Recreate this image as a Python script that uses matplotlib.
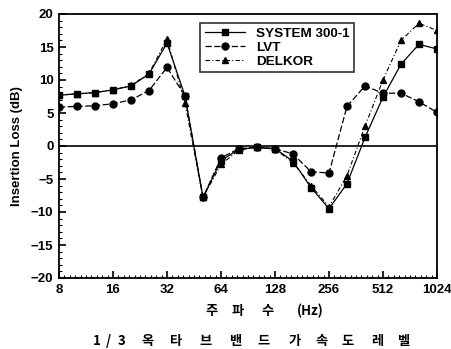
import numpy as np
import matplotlib
matplotlib.use("Agg")
import matplotlib.pyplot as plt
from matplotlib.ticker import FixedLocator, FixedFormatter, MultipleLocator

plt.rcParams['font.family'] = ['Liberation Sans', 'Noto Sans CJK KR', 'DejaVu Sans']

freqs = [8, 10.1, 12.7, 16, 20.2, 25.4, 32, 40.3, 50.8, 64, 80.6, 101.6,
         128, 161.3, 203.2, 256, 322.5, 406.4, 512, 645.1, 812.7, 1024]
system_300_1 = [7.7, 7.9, 8.1, 8.5, 9.1, 10.9, 15.6, 7.6, -7.8, -2.2, -0.5, -0.2,
                -0.4, -2.3, -6.3, -9.5, -5.7, 1.3, 7.4, 12.4, 15.4, 14.7]
lvt = [5.9, 6.0, 6.1, 6.4, 7.0, 8.4, 11.9, 7.6, -7.8, -1.8, -0.4, -0.2,
       -0.4, -1.2, -3.9, -4.1, 6.0, 9.1, 8.0, 8.0, 6.7, 5.1]
delkor = [7.7, 7.9, 8.1, 8.5, 9.2, 11.0, 16.2, 6.5, -7.8, -2.8, -0.6, -0.2,
          -0.5, -2.5, -6.0, -9.2, -4.5, 3.0, 10.0, 16.0, 18.6, 17.5]
xtick_vals = [8, 16, 32, 64, 128, 256, 512, 1024]
xtick_labels = ['8', '16', '32', '64', '128', '256', '512', '1024']
ytick_vals = [20, 15, 10, 5, 0, -5, -10, -15, -20]
series_names = ['SYSTEM 300-1', 'LVT', 'DELKOR']
xlabel_parts = ['주', '파', '수', '(Hz)']
title_parts = ['1', '/', '3', '옥', '타', '브', '밴', '드', '가', '속', '도', '레', '벨']

W, H = 451, 349
fig = plt.figure(figsize=(W / 100, H / 100), dpi=100)
ax = fig.add_axes([59 / W, 1 - 278 / H, 378 / W, 264 / H])

ax.plot(freqs, system_300_1, color='black', lw=0.9, ls='-', marker='s', ms=4.5, label=series_names[0])
ax.plot(freqs, lvt, color='black', lw=0.9, ls=(0, (5, 2)), marker='o', ms=5, label=series_names[1])
ax.plot(freqs, delkor, color='black', lw=0.8, ls=(0, (4, 2, 1, 2)), marker='^', ms=5, label=series_names[2])

ax.axhline(0, color='black', lw=1.2, zorder=0)

ax.set_xscale('log', base=2)
ax.set_xlim(8, 1024)
ax.set_ylim(-20, 20)
ax.xaxis.set_major_locator(FixedLocator(xtick_vals))
ax.xaxis.set_major_formatter(FixedFormatter(xtick_labels))
minor = [8 * 2 ** (k / 10) for k in range(0, 71) if k % 10 != 0]
ax.xaxis.set_minor_locator(FixedLocator(minor))
ax.xaxis.set_minor_formatter(FixedFormatter([''] * len(minor)))
ax.yaxis.set_major_locator(FixedLocator(ytick_vals))
ax.yaxis.set_minor_locator(MultipleLocator(1))

ax.tick_params(axis='both', which='major', direction='in', length=5, width=1.2,
               labelsize=9.5, pad=4)
ax.tick_params(axis='both', which='minor', direction='in', length=2.5, width=0.8)
for lab in ax.get_xticklabels() + ax.get_yticklabels():
    lab.set_fontweight('bold')
for s in ax.spines.values():
    s.set_linewidth(1.3)

ax.set_ylabel('Insertion Loss (dB)', fontsize=9.5, fontweight='bold', labelpad=6)

leg = ax.legend(loc='upper left', bbox_to_anchor=(0.373, 0.966), frameon=True,
                fancybox=False, edgecolor='black', fontsize=9.7, handlelength=3.0,
                borderpad=0.35, labelspacing=0.1, handletextpad=0.8, borderaxespad=0)
leg.get_frame().set_linewidth(1.2)
for t in leg.get_texts():
    t.set_fontweight('bold')

kfam = ['Noto Sans CJK KR', 'Liberation Sans']
xl_pos = [212, 238, 267, 310]
for s, px in zip(xlabel_parts, xl_pos):
    fig.text(px / W, 1 - 311 / H, s, fontsize=9.5, fontweight='bold',
             ha='center', va='center', family=kfam)
ti_pos = [97, 108, 122, 148, 176, 205, 235, 263, 295, 322, 348, 377, 403]
for s, px in zip(title_parts, ti_pos):
    fig.text(px / W, 1 - 341 / H, s, fontsize=9.5, fontweight='bold',
             ha='center', va='center', family=kfam)

fig.savefig('out.png', dpi=100)
